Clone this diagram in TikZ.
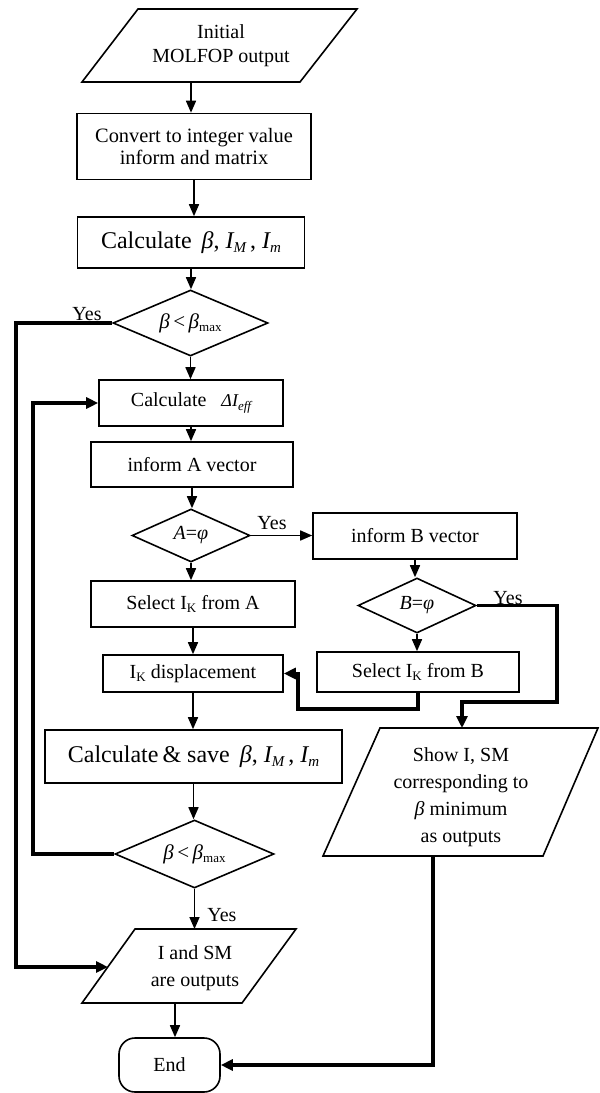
\documentclass[tikz,border=0pt]{standalone}
\usepackage{fontspec}
\setmainfont{Liberation Serif}
\usetikzlibrary{shapes.geometric,arrows.meta}
\newcommand\sbs[1]{\raisebox{-0.35ex}{\fontsize{6.5}{7}\selectfont #1}}
\newcommand\sbl[1]{\raisebox{-0.35ex}{\fontsize{7.5}{8}\selectfont #1}}
\begin{document}
\begin{tikzpicture}[x=0.5pt,y=-0.5pt,
  every node/.style={font=\fontsize{10}{12}\selectfont},
  box/.style={draw,line width=0.8pt,rectangle,inner sep=0pt,align=center},
  dia/.style={draw,line width=0.8pt,diamond,aspect=2.3,inner sep=0pt},
  para/.style={draw,line width=0.8pt,line join=miter},
  txt/.style={align=center,inner sep=0pt},
  arr/.style={line width=0.8pt,-{Triangle[length=6pt,width=5pt]}},
  tarr/.style={line width=1.6pt,-{Triangle[length=6pt,width=5.5pt]}},
  lbl/.style={inner sep=0pt}
]
\useasboundingbox (0,0) rectangle (600,1093);

% Initial parallelogram
\draw[para] (138,9) -- (357,9) -- (300,82) -- (82,82) -- cycle;
\node[txt] (init) at (221,46) {Initial\\MOLFOP output};
\coordinate (initS) at (191,82);

\node[box,minimum width=117pt,minimum height=33pt,
      font={\fontsize{10.2}{11}\selectfont}] (conv) at (194,146.5)
      {Convert to integer value\\inform and matrix};
\node[box,minimum width=113.5pt,minimum height=25.5pt,font=\fontsize{12}{14}\selectfont] (calc1) at (191,242.5)
      {Calculate \,{\itshape β}, {\itshape I}\sbl{\itshape M}\,, {\itshape I}\sbl{\itshape m}};
\node[dia,minimum width=77.5pt,minimum height=33pt,font=\fontsize{10.5}{12}\selectfont] (d1) at (190.5,323)
      {{\itshape β}\,<\,{\itshape β}\sbs{max}};
\node[box,minimum width=92pt,minimum height=23pt] (dI) at (191,403)
      {Calculate \enspace{\fontsize{9}{9}\selectfont\itshape ΔI}\sbs{\itshape eff}};
\node[box,minimum width=101pt,minimum height=22.5pt] (infA) at (192,464.5) {inform A vector};
\node[dia,minimum width=59pt,minimum height=26.5pt] (dA) at (191,535.5) {{\itshape A}={\itshape φ}};
\node[box,minimum width=102pt,minimum height=23pt] (infB) at (415,536) {inform B vector};
\node[dia,minimum width=59pt,minimum height=27.5pt] (dB) at (417,605.5) {{\itshape B}={\itshape φ}};
\node[box,minimum width=101pt,minimum height=20pt] (selB) at (418,672) {Select I\sbs{K} from B};
\node[box,minimum width=102pt,minimum height=23pt] (selA) at (193,604) {Select I\sbs{K} from A};
\node[box,minimum width=90pt,minimum height=18.5pt] (disp) at (193,673.5) {I\sbs{K} displacement};
\node[box,minimum width=148.5pt,minimum height=26.5pt,font=\fontsize{12}{14}\selectfont] (calc2) at (193.5,756.5)
      {Calculate\,\& save \,{\itshape β}, {\itshape I}\sbl{\itshape M}\,, {\itshape I}\sbl{\itshape m}};
\node[dia,minimum width=79.5pt,minimum height=34pt,font=\fontsize{10.5}{12}\selectfont] (d2) at (194.5,854)
      {{\itshape β}\,<\,{\itshape β}\sbs{max}};

% Outputs parallelogram
\draw[para] (135,929) -- (296,929) -- (242,1003) -- (82,1003) -- cycle;
\node[txt,font=\fontsize{10}{13.5}\selectfont] (out1) at (195,968) {I and SM\\are outputs};
\coordinate (out1N) at (195,929);
\coordinate (out1W) at (108,967);
\coordinate (out1S) at (175,1003);

\node[draw,line width=0.8pt,rounded corners=8pt,minimum width=50.5pt,minimum height=27pt,inner sep=0pt] (end) at (169.5,1065) {End};

% Show parallelogram
\draw[para] (380,728) -- (598,728) -- (543,856) -- (323,856) -- cycle;
\node[txt,font=\fontsize{10}{13.5}\selectfont] (show) at (461,797)
      {Show I, SM\\corresponding to\\{\itshape β} minimum\\as outputs};
\coordinate (showN) at (462,728);
\coordinate (showS) at (433,856);

% connectors
\draw[arr] (initS) -- (initS |- conv.north);
\draw[arr] (conv.south) -- (conv.south |- calc1.north);
\draw[arr] (calc1.south) -- (calc1.south |- d1.north);
\draw[arr] (d1.south) -- (d1.south |- dI.north);
\draw[arr] (dI.south) -- (dI.south |- infA.north);
\draw[arr] (infA.south) -- (infA.south |- dA.north);
\draw[arr] (dA.east) -- (dA.east -| infB.west);
\node[lbl] (yA) at (272,523) {Yes};
\draw[arr] (dA.south) -- (dA.south |- selA.north);
\draw[arr] (infB.south) -- (infB.south |- dB.north);
\draw[arr] (dB.south) -- (dB.south |- selB.north);
\draw[tarr] (dB.east) -- (557,605.5) -- (557,702) -- (462,702) -- (showN);
\node[lbl] (yB) at (508,598) {Yes};
\draw[tarr] (selB.south) |- (298,709) |- (disp.east);
\draw[arr] (selA.south) -- (selA.south |- disp.north);
\draw[arr] (disp.south) -- (disp.south |- calc2.north);
\draw[arr] (calc2.south) -- (calc2.south |- d2.north);
\draw[tarr] (d2.west) -| (33,403) -- (dI.west);
\draw[arr] (d2.south) -- (d2.south |- out1N);
\node[lbl,anchor=west] (y2) at (207,915) {Yes};
\draw[tarr] (d1.west) -| (16,967) -- (out1W);
\node[lbl] (y1) at (87,314) {Yes};
\draw[arr] (out1S) -- (out1S |- end.north);
\draw[tarr] (showS) |- (end.east);
\end{tikzpicture}
\end{document}
